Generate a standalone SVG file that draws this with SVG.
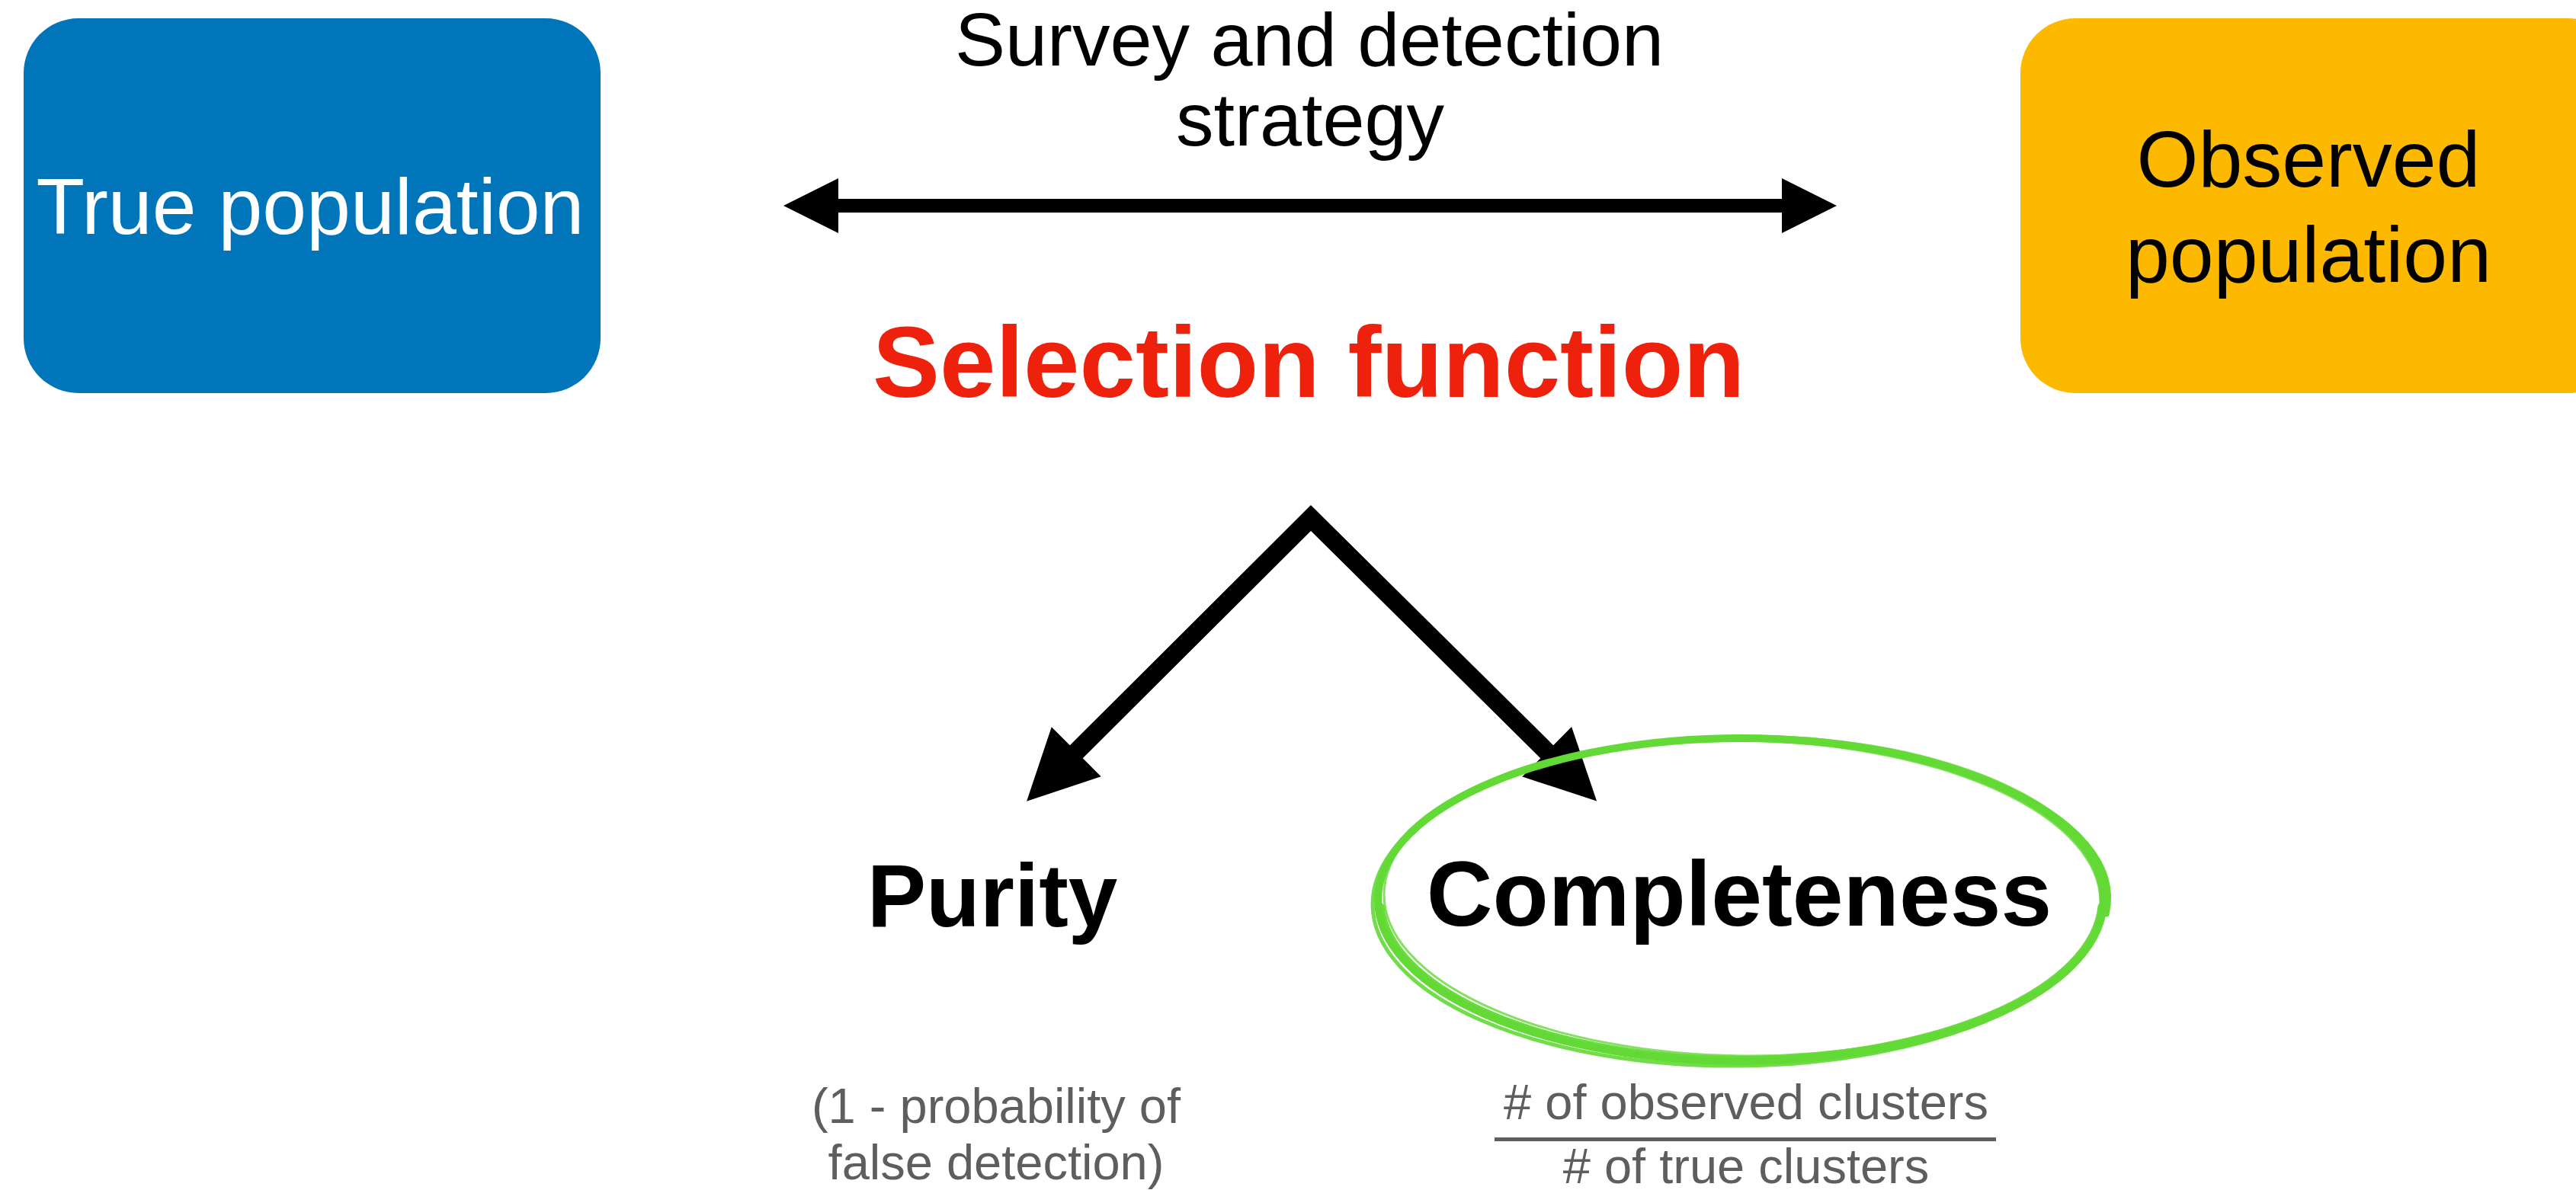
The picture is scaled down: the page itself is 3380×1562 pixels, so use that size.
<svg xmlns="http://www.w3.org/2000/svg" width="3380" height="1562" viewBox="0 0 3380 1562">
  <style>
    text { font-family: "Liberation Sans", Arial, Helvetica, sans-serif; text-anchor: middle; }
    .box-label { font-size: 104px; }
    .label { font-size: 99px; fill: #000; }
    .title { font-size: 132px; font-weight: bold; fill: #EE220C; }
    .metric { font-size: 120px; font-weight: bold; fill: #000; }
    .desc { font-size: 65px; fill: #5E5E5E; }
    .conn { fill: none; stroke: #000; }
    .brush { fill: none; stroke: #63D936; stroke-linecap: round; }
  </style>
  <defs>
    <marker id="headH" markerUnits="userSpaceOnUse" viewBox="0 -36 72 72" refX="7" refY="0" markerWidth="72" markerHeight="72" orient="auto-start-reverse" overflow="visible">
      <path d="M0,-36 L72,0 L0,36 Z" fill="#000"/>
    </marker>
    <marker id="headD" markerUnits="userSpaceOnUse" viewBox="0 -46 92 92" refX="6" refY="0" markerWidth="92" markerHeight="92" orient="auto-start-reverse" overflow="visible">
      <path d="M0,-46 L92,0 L0,46 Z" fill="#000"/>
    </marker>
  </defs>

  <rect width="3380" height="1562" fill="#FFFFFF"/>

  <g id="true-population">
    <rect x="31" y="24" width="757" height="492" rx="72" ry="72" fill="#0075BA"/>
    <text class="box-label" x="407" y="307" fill="#FFFFFF">True population</text>
  </g>

  <g id="observed-population">
    <rect x="2651" y="24" width="790" height="492" rx="72" ry="72" fill="#FDB800"/>
    <text class="box-label" x="3029" y="245" fill="#000000">Observed</text>
    <text class="box-label" x="3029" y="370" fill="#000000">population</text>
  </g>

  <g id="survey-label">
    <text class="label" x="1718" y="86">Survey and detection</text>
    <text class="label" x="1719" y="191">strategy</text>
  </g>

  <g id="selection-function">
    <text class="title" x="1717" y="521">Selection function</text>
  </g>

  <g id="connectors">
    <path class="conn" d="M1093,270 L2345,270" stroke-width="18" marker-start="url(#headH)" marker-end="url(#headH)"/>
    <path class="conn" d="M1408,991 L1720,680 L2034,991" stroke-width="24" stroke-linejoin="miter" marker-start="url(#headD)" marker-end="url(#headD)"/>
  </g>

  <g id="purity">
    <text class="metric" x="1302" y="1216" style="font-size:116px">Purity</text>
  </g>

  <g id="completeness">
    <g id="highlight-ring">
      <ellipse class="brush" cx="2284" cy="1181" rx="476" ry="212" stroke-width="10"/>
      <ellipse class="brush" cx="2282" cy="1183" rx="481" ry="216" stroke-width="5" transform="rotate(-0.6 2282 1183)" opacity="0.9"/>
      <ellipse class="brush" cx="2286" cy="1179" rx="470" ry="207" stroke-width="3" transform="rotate(0.7 2286 1179)" opacity="0.8"/>
      <path class="brush" d="M1812,1190 A473 210 0 0 0 2757,1190" stroke-width="9" opacity="0.95"/>
      <path class="brush" d="M2620,1030 A470 205 0 0 1 2764,1200" stroke-width="7"/>
    </g>
    <text class="metric" x="2282" y="1215">Completeness</text>
  </g>

  <g id="purity-desc">
    <text class="desc" x="1307" y="1474">(1 - probability of</text>
    <text class="desc" x="1307" y="1548">false detection)</text>
  </g>

  <g id="completeness-desc">
    <text class="desc" x="2291" y="1469"># of observed clusters</text>
    <rect x="1961" y="1493" width="658" height="5" fill="#5E5E5E"/>
    <text class="desc" x="2291" y="1553"># of true clusters</text>
  </g>
</svg>
